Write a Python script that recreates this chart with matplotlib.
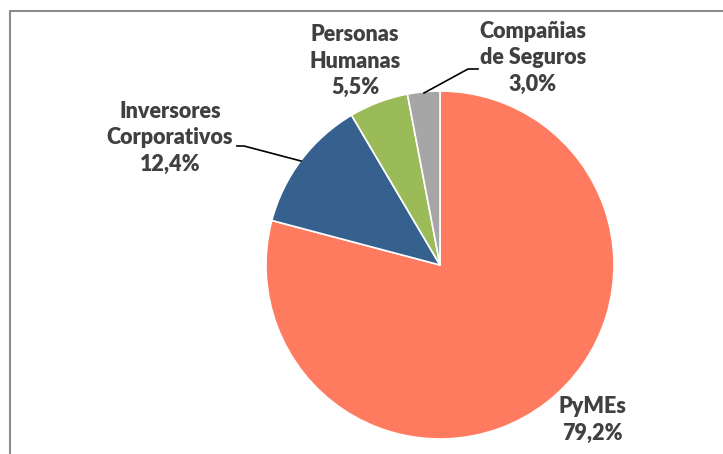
import matplotlib
matplotlib.use('Agg')
import matplotlib.pyplot as plt
from matplotlib.patches import Rectangle

# datos
categorias = ['PyMEs', 'Inversores\nCorporativos', 'Personas\nHumanas', 'Compañias\nde Seguros']
valores = [79.2, 12.4, 5.5, 3.0]
colores = ['#FF7B5F', '#36618F', '#9BBB59', '#A6A6A6']

W, H = 723, 454
fig = plt.figure(figsize=(W / 100, H / 100), dpi=100)
ax = fig.add_axes([0, 0, 1, 1])

# marco gris del grafico
ax.add_patch(Rectangle((10, -5), W, H - 11 + 5, fill=False, edgecolor='#8C8C8C', lw=1.5))

centro = (440, H - 265)
radio = 174
ax.pie(valores, colors=colores, startangle=90, counterclock=False, center=centro,
       radius=radio, wedgeprops=dict(edgecolor='white', linewidth=1.2), frame=True)
ax.set_xlim(0, W)
ax.set_ylim(0, H)
ax.set_aspect('equal')
ax.axis('off')

# posiciones de etiquetas (pixeles)
pos_etiq = [(592, 420), (170, 138), (355, 61), (533, 58)]
fuente = dict(family=['Lato', 'DejaVu Sans'], fontsize=15.5, fontweight='heavy', color='#404040',
              ha='center', va='center', linespacing=1.33)
for cat, v, (x, y) in zip(categorias, valores, pos_etiq):
    txt = cat + '\n' + ('%.1f%%' % v).replace('.', ',')
    ax.text(x, H - y, txt, **fuente)

# lineas guia
ax.plot([237, 244, 301], [H - 146, H - 146, H - 161], color='black', lw=1.2)
ax.plot([478, 468, 424], [H - 69, H - 69, H - 93], color='black', lw=1.2)

fig.savefig('out.png', dpi=100)
